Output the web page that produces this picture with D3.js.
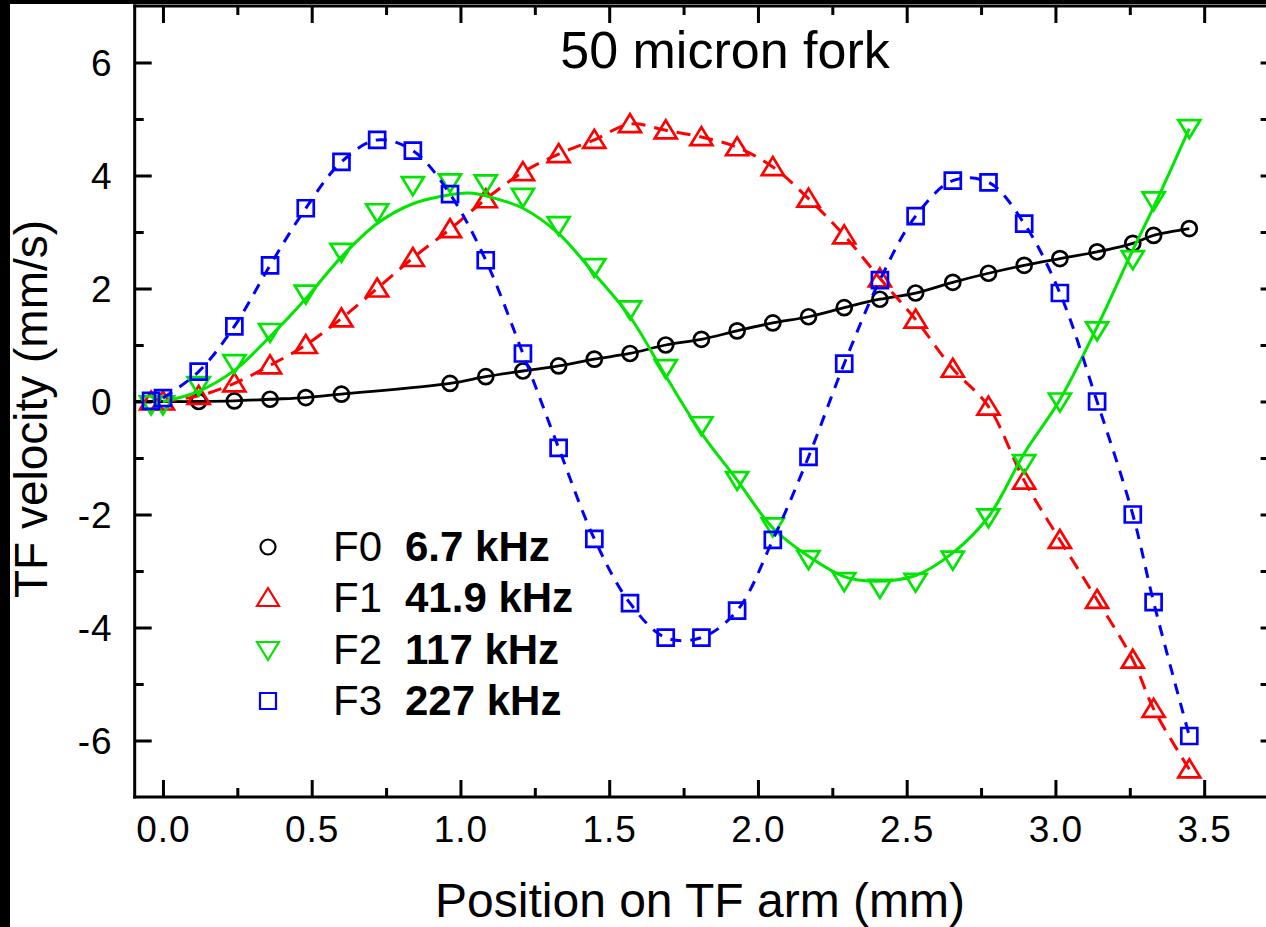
<!DOCTYPE html>
<html>
<head>
<meta charset="utf-8">
<script src="https://cdn.jsdelivr.net/npm/d3@7"></script>
<style>
  html, body { margin: 0; padding: 0; background: #fff; }
  svg { display: block; font-family: "Liberation Sans", Arial, sans-serif; }
</style>
</head>
<body>
<svg id="chart" width="1266" height="927"></svg>
<script>
// ---------- data ----------
const title = "50 micron fork";
const xLabel = "Position on TF arm (mm)";
const yLabel = "TF velocity (mm/s)";
const xTicks = [0, 0.5, 1.0, 1.5, 2.0, 2.5, 3.0, 3.5];
const yTicks = [-6, -4, -2, 0, 2, 4, 6];

const seriesNames = ["F0", "F1", "F2", "F3"];
const seriesFreqs = ["6.7 kHz", "41.9 kHz", "117 kHz", "227 kHz"];

// F0 (circles)
const f0X = [0.12,0.24,0.36,0.48,0.60,0.965,1.085,1.21,1.33,1.45,1.57,1.69,1.81,1.93,2.05,2.17,2.29,2.41,2.53,2.655,2.775,2.895,3.015,3.14,3.26,3.33,3.45];
const f0Y = [0.0,0.01,0.04,0.07,0.13,0.32,0.44,0.54,0.63,0.75,0.85,1.0,1.1,1.25,1.39,1.5,1.66,1.81,1.92,2.11,2.27,2.41,2.53,2.65,2.8,2.94,3.06];
// F0 fitted line
const f0FitX = [-0.09,0.0,0.12,0.24,0.36,0.48,0.60,0.965,1.085,1.21,1.33,1.45,1.57,1.69,1.81,1.93,2.05,2.17,2.29,2.41,2.53,2.655,2.775,2.895,3.015,3.14,3.26,3.33,3.45];
const f0FitY = [0.0,0.0,0.0,0.01,0.04,0.07,0.13,0.32,0.44,0.54,0.63,0.75,0.85,1.0,1.1,1.25,1.39,1.5,1.66,1.81,1.92,2.11,2.27,2.41,2.53,2.65,2.8,2.94,3.06];

// shared positions of F1..F3 points
const posX = [-0.04,0.0,0.12,0.24,0.36,0.48,0.60,0.72,0.84,0.965,1.085,1.21,1.33,1.45,1.57,1.69,1.81,1.93,2.05,2.17,2.29,2.41,2.53,2.655,2.775,2.895,3.015,3.14,3.26,3.33,3.45];
// F1 (up triangles)
const f1Y = [0.0,0.0,0.1,0.32,0.64,1.0,1.47,2.0,2.54,3.05,3.58,4.06,4.38,4.63,4.91,4.8,4.68,4.5,4.15,3.59,2.94,2.18,1.45,0.58,-0.09,-1.4,-2.45,-3.51,-4.57,-5.44,-6.51];
// F2 (down triangles)
const f2Y = [-0.05,-0.05,0.29,0.68,1.23,1.91,2.65,3.35,3.83,3.88,3.86,3.62,3.12,2.38,1.63,0.59,-0.42,-1.39,-2.21,-2.79,-3.18,-3.30,-3.19,-2.8,-2.05,-1.09,0.0,1.26,2.52,3.56,4.84];
// F2 fitted line
const f2FitX = [0,0.12,0.24,0.36,0.48,0.60,0.72,0.84,0.965,1.03,1.085,1.21,1.33,1.45,1.57,1.69,1.81,1.93,2.05,2.17,2.29,2.39,2.53,2.655,2.775,2.895,3.015,3.14,3.26,3.33,3.45];
const f2FitY = [0,0.18,0.55,1.15,1.82,2.56,3.15,3.5,3.66,3.69,3.64,3.42,2.97,2.26,1.5,0.45,-0.56,-1.39,-2.24,-2.74,-3.1,-3.18,-3.08,-2.68,-2.04,-0.92,0.03,1.32,2.68,3.44,4.83];
// F3 (squares)
const f3Y = [0.01,0.06,0.53,1.33,2.41,3.42,4.24,4.63,4.44,3.67,2.5,0.85,-0.82,-2.43,-3.57,-4.18,-4.18,-3.7,-2.45,-0.98,0.67,2.15,3.28,3.91,3.88,3.15,1.92,0.0,-2.0,-3.55,-5.92];

// ---------- layout ----------
const svg = d3.select("#chart");
const W = 1266, H = 927;
const plotLeft = 134.7, plotRight = 1272.6, plotTop = 6, plotBottom = 797;

const x = d3.scaleLinear().domain([-0.095, 3.73]).range([plotLeft, plotRight]);
const y = d3.scaleLinear().domain([-7, 7]).range([plotBottom, plotTop]);

svg.append("rect").attr("width", W).attr("height", H).attr("fill", "#fff");

// black border strips of the original picture
svg.append("rect").attr("x", 0).attr("y", 0).attr("width", 10).attr("height", H).attr("fill", "#000");
svg.append("rect").attr("x", 0).attr("y", 0).attr("width", W).attr("height", 4).attr("fill", "#000");

const clip = svg.append("defs").append("clipPath").attr("id", "plotclip");
clip.append("rect").attr("x", plotLeft).attr("y", plotTop).attr("width", plotRight - plotLeft).attr("height", plotBottom - plotTop);

// ---------- axes ----------
const xMinor = d3.range(0, 3.76, 0.25).filter(v => Math.abs(v * 2 - Math.round(v * 2)) > 1e-6);
const yMinor = [-5, -3, -1, 1, 3, 5];
const yFmt = v => String(v).replace("\u2212", "-");

function styleAxis(g) {
  g.select(".domain").remove();
  g.selectAll(".tick line").attr("stroke", "#000").attr("stroke-width", 3);
}

// bottom
const gB = svg.append("g").attr("transform", `translate(0,${plotBottom})`)
  .call(d3.axisBottom(x).tickValues(xTicks).tickSize(-17).tickPadding(0).tickFormat(d3.format(".1f")));
styleAxis(gB);
gB.selectAll(".tick text").attr("font-size", 37).attr("fill", "#000").attr("y", 45).attr("dy", 0)
  .attr("letter-spacing", 1).attr("font-family", "Liberation Sans, Arial, sans-serif");
svg.append("g").attr("transform", `translate(0,${plotBottom})`)
  .call(d3.axisBottom(x).tickValues(xMinor).tickSize(-9).tickFormat(""))
  .call(styleAxis);

// top
svg.append("g").attr("transform", `translate(0,${plotTop})`)
  .call(d3.axisTop(x).tickValues(xTicks).tickSize(-17).tickFormat(""))
  .call(styleAxis);
svg.append("g").attr("transform", `translate(0,${plotTop})`)
  .call(d3.axisTop(x).tickValues(xMinor).tickSize(-9).tickFormat(""))
  .call(styleAxis);

// left
const gL = svg.append("g").attr("transform", `translate(${plotLeft},0)`)
  .call(d3.axisLeft(y).tickValues(yTicks).tickSize(-17).tickPadding(0).tickFormat(yFmt));
styleAxis(gL);
gL.selectAll(".tick text").attr("font-size", 37).attr("fill", "#000").attr("x", -22).attr("dy", "0.36em")
  .attr("letter-spacing", 1).attr("font-family", "Liberation Sans, Arial, sans-serif");
svg.append("g").attr("transform", `translate(${plotLeft},0)`)
  .call(d3.axisLeft(y).tickValues(yMinor).tickSize(-9).tickFormat(""))
  .call(styleAxis);

// right
svg.append("g").attr("transform", `translate(${plotRight},0)`)
  .call(d3.axisRight(y).tickValues(yTicks.concat(yMinor)).tickSize(-12).tickFormat(""))
  .call(styleAxis);

// frame
const frame = svg.append("g").attr("stroke", "#000").attr("stroke-width", 3).attr("fill", "none");
frame.append("line").attr("x1", plotLeft).attr("x2", plotLeft).attr("y1", plotTop - 1.5).attr("y2", plotBottom + 1.5);
frame.append("line").attr("x1", plotLeft - 1.5).attr("x2", plotRight).attr("y1", plotBottom).attr("y2", plotBottom);
frame.append("line").attr("x1", plotLeft - 1.5).attr("x2", plotRight).attr("y1", plotTop).attr("y2", plotTop);
frame.append("line").attr("x1", plotRight).attr("x2", plotRight).attr("y1", plotTop).attr("y2", plotBottom);

// ---------- marker shapes ----------
function markerPath(type, cx, cy) {
  if (type === "up") return `M${cx},${cy - 10}L${cx + 11},${cy + 8}L${cx - 11},${cy + 8}Z`;
  if (type === "down") return `M${cx - 11},${cy - 8}L${cx + 11},${cy - 8}L${cx},${cy + 10}Z`;
  if (type === "square") return `M${cx - 8},${cy - 8}h16v16h-16Z`;
  return null;
}
function drawMarker(g, type, cx, cy, color, sw) {
  if (type === "circle") {
    g.append("circle").attr("cx", cx).attr("cy", cy).attr("r", 7.5)
      .attr("fill", "none").attr("stroke", color).attr("stroke-width", sw);
  } else {
    g.append("path").attr("d", markerPath(type, cx, cy))
      .attr("fill", "none").attr("stroke", color).attr("stroke-width", sw).attr("stroke-linejoin", "miter");
  }
}

// ---------- series ----------
const plot = svg.append("g").attr("clip-path", "url(#plotclip)");
const lineGen = d3.line().x(d => x(d[0])).y(d => y(d[1])).curve(d3.curveCatmullRom.alpha(0.5));
const zip = (xs, ys) => xs.map((v, i) => [v, ys[i]]);

const series = [
  { line: zip(f0FitX, f0FitY), pts: zip(f0X, f0Y), color: "#000000", marker: "circle", dash: null, lw: 2.8 },
  { line: zip(posX, f1Y).filter(d => d[0] >= 0), pts: zip(posX, f1Y), color: "#ff0000", marker: "up", dash: "14,9", lw: 3 },
  { line: zip(f2FitX, f2FitY), pts: zip(posX, f2Y), color: "#00e600", marker: "down", dash: null, lw: 3 },
  { line: zip(posX, f3Y).filter(d => d[0] >= 0), pts: zip(posX, f3Y), color: "#0000ff", marker: "square", dash: "11,9", lw: 3 }
];

series.forEach(s => {
  const g = plot.append("g");
  g.append("path").attr("d", lineGen(s.line)).attr("fill", "none")
    .attr("stroke", s.color).attr("stroke-width", s.lw)
    .attr("stroke-dasharray", s.dash);
  s.pts.forEach(p => drawMarker(g, s.marker, x(p[0]), y(p[1]), s.color, 2.7));
});

// ---------- legend ----------
const legendRows = [547, 598, 650, 701];
const legendMarkers = ["circle", "up", "down", "square"];
const legendColors = ["#000000", "#ff0000", "#00e600", "#0000ff"];
const lg = svg.append("g");
seriesNames.forEach((name, i) => {
  const cy = legendRows[i];
  drawMarker(lg, legendMarkers[i], 268, cy, legendColors[i], 2.2);
  lg.append("text").attr("x", 333).attr("y", cy + 14).attr("font-size", 42).attr("fill", "#000").text(name);
  lg.append("text").attr("x", 405).attr("y", cy + 14).attr("font-size", 42).attr("font-weight", "bold").attr("fill", "#000").text(seriesFreqs[i]);
});

// ---------- titles ----------
svg.append("text").attr("x", 725).attr("y", 68).attr("text-anchor", "middle")
  .attr("font-size", 52).attr("fill", "#000").text(title);
svg.append("text").attr("x", 700).attr("y", 917).attr("text-anchor", "middle")
  .attr("font-size", 48).attr("fill", "#000").text(xLabel);
svg.append("text").attr("transform", "translate(47,409) rotate(-90)").attr("text-anchor", "middle")
  .attr("font-size", 46).attr("fill", "#000").text(yLabel);
</script>
</body>
</html>
